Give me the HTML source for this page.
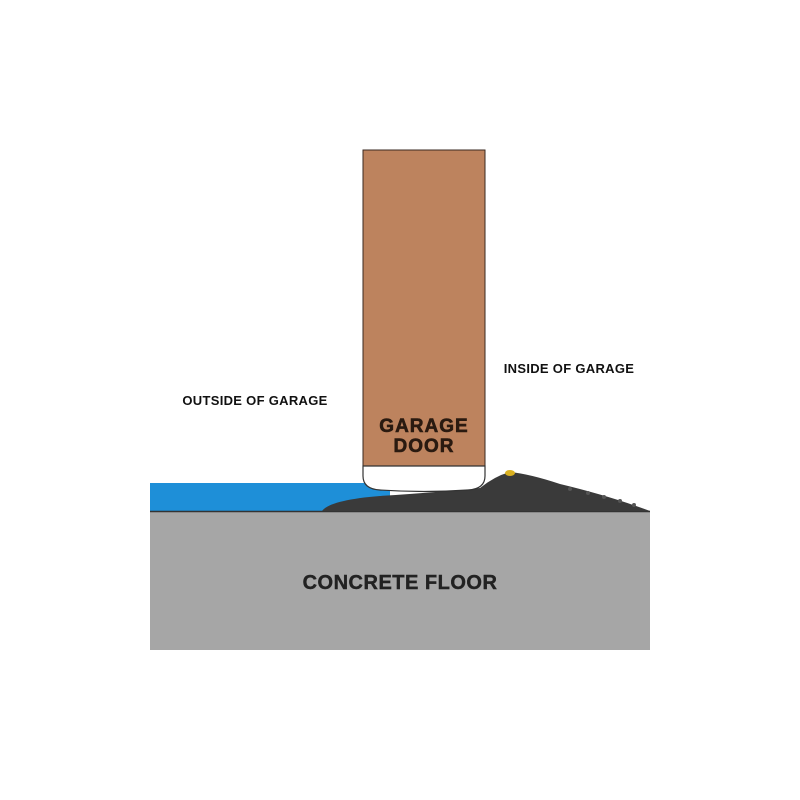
<!DOCTYPE html>
<html><head><style>
body{margin:0;background:#fff;}
svg{display:block}
text{font-family:"Liberation Sans",sans-serif;font-weight:bold}
</style></head><body>
<svg width="800" height="800" viewBox="0 0 800 800">
<rect x="150" y="483" width="240" height="29" fill="#1e8fd8"/>
<rect x="150" y="512" width="500" height="138" fill="#a6a6a6"/>
<line x1="150" y1="511.5" x2="650" y2="511.5" stroke="#333" stroke-width="1.5"/>
<path d="M322,511 Q330,500 380,496 Q440,492 480,488 Q495,476 510,472 Q530,474 560,484 Q610,496 650,511 Z" fill="#3a3a3a"/>
<rect x="363" y="150" width="122" height="318" fill="#bd835e" stroke="#3a2a20" stroke-width="1"/>
<path d="M363,466 L485,466 L485,476 Q485,489 468,490 Q424,493 380,490 Q363,489 363,476 Z" fill="#fff" stroke="#333" stroke-width="1.2"/>
<ellipse cx="510" cy="473" rx="5" ry="3" fill="#d9b020"/>
<g fill="#555"><circle cx="570" cy="489" r="2"/><circle cx="588" cy="493" r="2"/><circle cx="604" cy="497" r="2"/><circle cx="620" cy="501" r="2"/><circle cx="634" cy="505" r="2"/></g>
<text x="424" y="432" font-size="19" text-anchor="middle" fill="#2a1a10" stroke="#2a1a10" stroke-width="0.6" letter-spacing="1">GARAGE</text>
<text x="424" y="452" font-size="19" text-anchor="middle" fill="#2a1a10" stroke="#2a1a10" stroke-width="0.6" letter-spacing="1">DOOR</text>
<text x="400" y="589" font-size="20" text-anchor="middle" fill="#222" stroke="#222" stroke-width="0.4" letter-spacing="0.5">CONCRETE FLOOR</text>
<text x="255" y="405" font-size="13" text-anchor="middle" fill="#111" letter-spacing="0.3">OUTSIDE OF GARAGE</text>
<text x="569" y="373" font-size="13" text-anchor="middle" fill="#111" letter-spacing="0.3">INSIDE OF GARAGE</text>
</svg>
</body></html>
